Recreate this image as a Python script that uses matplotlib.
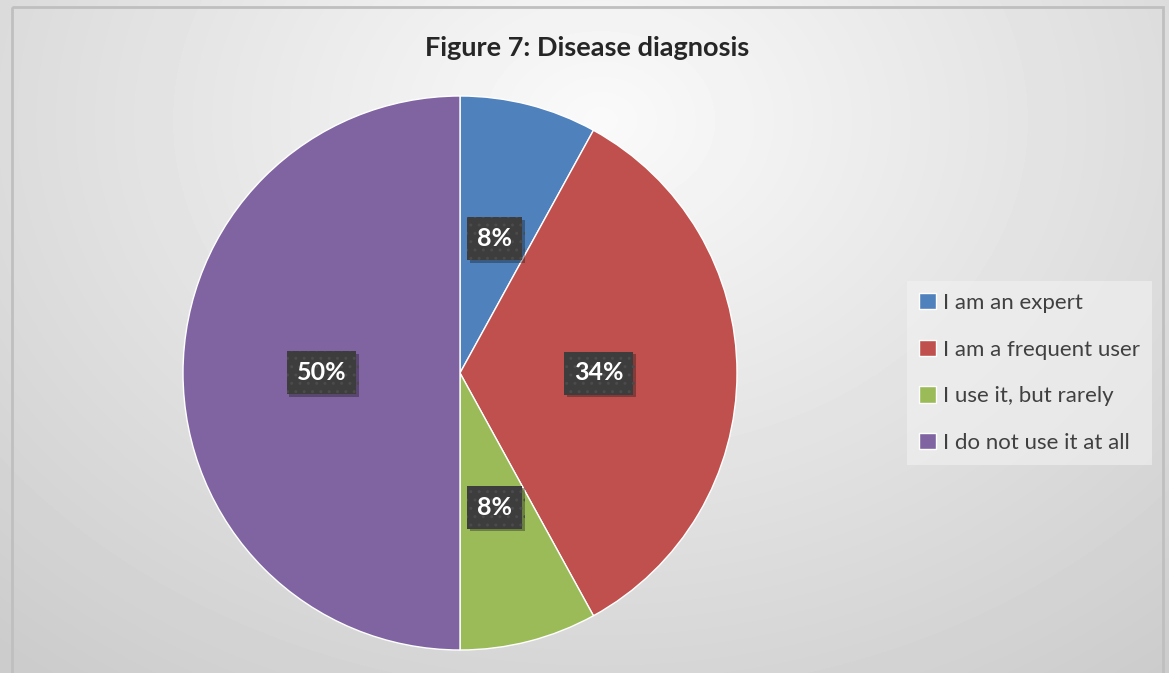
import numpy as np
import matplotlib.pyplot as plt
import matplotlib.patheffects as pe
from matplotlib.patches import Rectangle

labels = ['I am an expert', 'I am a frequent user', 'I use it, but rarely', 'I do not use it at all']
values = [8, 34, 8, 50]
colors = ['#4f81bd', '#c0504d', '#9bbb59', '#8064a2']
title = 'Figure 7: Disease diagnosis'

W, H = 1169, 673
plt.rcParams['font.family'] = ['Lato', 'DejaVu Sans']

fig = plt.figure(figsize=(W / 100, H / 100), dpi=100)

# radial gradient background
bg = fig.add_axes([0, 0, 1, 1])
yy, xx = np.mgrid[0:H, 0:W]
d = np.sqrt(((xx - 600) / 900.0) ** 2 + ((yy - 120) / 700.0) ** 2)
shade = np.clip(0.98 - 0.18 * d, 0.8, 1.0)
bg.imshow(shade, cmap='gray', vmin=0, vmax=1, extent=[0, W, H, 0], aspect='auto')
bg.set_xlim(0, W)
bg.set_ylim(H, 0)
bg.axis('off')
bg.add_patch(Rectangle((11.5, 6.5), 1151, 700, fill=False, edgecolor='#bfbfbf', linewidth=2))

ax = fig.add_axes([183 / W, (H - 650) / H, 554 / W, 554 / H])
wedges, texts, autotexts = ax.pie(values, colors=colors, startangle=90, counterclock=False,
                                  autopct='%d%%', pctdistance=0.5,
                                  wedgeprops=dict(edgecolor='white', linewidth=1))
for t in autotexts:
    t.set_color('white')
    t.set_fontsize(18)
    t.set_fontweight('bold')
    t.set_bbox(dict(boxstyle='square,pad=0.4', facecolor='#3d3d3d', edgecolor='#4b4b4b',
                    linewidth=0, hatch='..'))
    t.get_bbox_patch().set_path_effects([pe.SimplePatchShadow(offset=(2, -2), alpha=0.35), pe.Normal()])
ax.set_xlim(-1, 1)
ax.set_ylim(-1, 1)
ax.set_aspect('equal')

fig.text(587 / W, 1 - 48 / H, title, ha='center', va='center', fontsize=19.5, fontweight='bold',
         color='#262626')

leg = fig.legend(wedges, labels, loc='center left', bbox_to_anchor=(896 / W, 1 - 373 / H),
                 frameon=True, fontsize=16, handlelength=0.75, handleheight=0.75,
                 handletextpad=0.3, labelspacing=1.2, borderpad=0.55, fancybox=False,
                 labelcolor='#404040')
leg.get_frame().set_facecolor('#f2f2f2')
leg.get_frame().set_alpha(0.6)
leg.get_frame().set_linewidth(0)

fig.savefig('out.png', dpi=100)
